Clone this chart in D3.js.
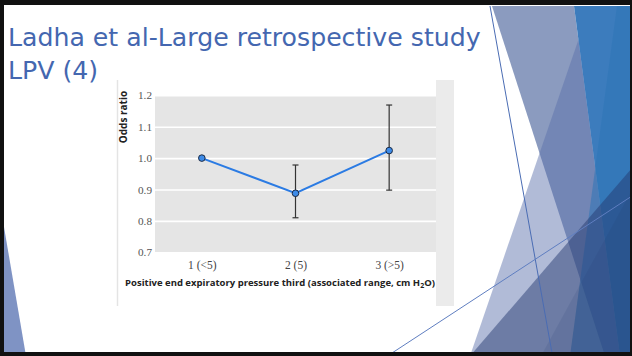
<!DOCTYPE html>
<html>
<head>
<meta charset="utf-8">
<script src="https://cdn.jsdelivr.net/npm/d3@7"></script>
<style>
  html, body { margin: 0; padding: 0; background: #fff; }
  svg { display: block; }
</style>
</head>
<body>
<svg id="slide" width="632" height="356"></svg>
<script>
// Odds ratio of mortality by PEEP third, with 95% confidence intervals
const categories = ["1 (<5)", "2 (5)", "3 (>5)"];
const oddsRatio  = [1.0, 0.888, 1.024];
const ciLower    = [null, 0.81, 0.898];
const ciUpper    = [null, 0.978, 1.169];
const yTicks     = [0.7, 0.8, 0.9, 1.0, 1.1, 1.2];

const titleLines = ["Ladha et al-Large retrospective study", "LPV (4)"];

const svg = d3.select("#slide");

// ---- slide theme decoration (translucent facets on the right) ----
const deco = svg.append("g");
const poly = (pts, fill, op) => deco.append("polygon")
  .attr("points", pts.map(p => p.join(",")).join(" "))
  .attr("fill", fill).attr("fill-opacity", op);

poly([[492,6],[574,6],[620,356],[605,356]], "#8b9bbf", 1);       // grey-blue facet
poly([[590,6],[632,6],[632,356],[470,356]], "#5a6fa9", 0.47);    // lavender facet
poly([[574,6],[632,6],[632,356],[620,356]], "#3c7cbd", 1);       // blue facet
poly([[617,6],[632,6],[632,356],[570,356]], "#2e75b6", 0.55);    // light blue facet
poly([[470,356],[632,168],[632,356]], "#24386f", 0.48);          // dark lower facet
poly([[541,356],[632,190],[632,356]], "#24386f", 0.12);          // navy corner facet
poly([[4,227],[26,356],[4,356]], "#7f93c4", 1);                  // small left facet

deco.append("line").attr("x1", 490).attr("y1", 6).attr("x2", 552).attr("y2", 353)
  .attr("stroke", "#4a6cb3").attr("stroke-width", 1);
deco.append("line").attr("x1", 392).attr("y1", 353).attr("x2", 632).attr("y2", 196)
  .attr("stroke", "#5f7ec0").attr("stroke-width", 1);

// ---- title ----
const title = svg.append("text")
  .attr("font-family", "'DejaVu Sans', sans-serif")
  .attr("font-size", 25.2)
  .attr("fill", "#4467b0");
titleLines.forEach((t, i) => {
  title.append("tspan").attr("x", 8).attr("y", 46 + i * 33).text(t);
});

// ---- chart figure panel ----
const panel = svg.append("g");
panel.append("rect").attr("x", 117).attr("y", 80).attr("width", 337).attr("height", 226).attr("fill", "#fff");
panel.append("line").attr("x1", 117.5).attr("x2", 117.5).attr("y1", 80).attr("y2", 306)
  .attr("stroke", "#e4e4e4").attr("stroke-width", 1.5);
panel.append("rect").attr("x", 436).attr("y", 80).attr("width", 18).attr("height", 226).attr("fill", "#ebebeb");

const plot = { left: 155, right: 436, top: 95.3, bottom: 252.3 };

const x = d3.scalePoint().domain(categories).range([plot.left, plot.right]).padding(0.5);
const y = d3.scaleLinear().domain([0.7, 1.2]).range([plot.bottom, plot.top]);

const g = svg.append("g");
g.append("rect").attr("x", plot.left).attr("y", plot.top)
  .attr("width", plot.right - plot.left).attr("height", plot.bottom - plot.top)
  .attr("fill", "#e5e5e5");

// horizontal gridlines + tick labels from the axis generator
const yAxis = d3.axisLeft(y).tickValues(yTicks).tickFormat(d3.format(".1f"))
  .tickSize(-(plot.right - plot.left)).tickPadding(3);
const ya = g.append("g").attr("transform", `translate(${plot.left},0)`).call(yAxis);
ya.select(".domain").remove();
ya.selectAll(".tick line").attr("stroke", "#ffffff").attr("stroke-width", 1.6);
ya.selectAll(".tick text").attr("font-family", "'Liberation Serif', serif")
  .attr("font-size", 11.2).attr("fill", "#555");

const xAxis = d3.axisBottom(x).tickSize(0).tickPadding(9);
const xa = g.append("g").attr("transform", `translate(0,${plot.bottom})`).call(xAxis);
xa.select(".domain").remove();
xa.selectAll(".tick text").attr("font-family", "'Liberation Serif', serif")
  .attr("font-size", 11.5).attr("fill", "#444");

// error bars
const ci = categories.map((c, i) => ({ c, lo: ciLower[i], hi: ciUpper[i] })).filter(d => d.lo != null);
const eb = g.append("g").attr("stroke", "#333").attr("stroke-width", 1.2).attr("fill", "none");
ci.forEach(d => {
  eb.append("line").attr("x1", x(d.c)).attr("x2", x(d.c)).attr("y1", y(d.lo)).attr("y2", y(d.hi));
  [d.lo, d.hi].forEach(v => eb.append("line")
    .attr("x1", x(d.c) - 3).attr("x2", x(d.c) + 3).attr("y1", y(v)).attr("y2", y(v)));
});

// line + markers
const pts = categories.map((c, i) => ({ c, v: oddsRatio[i] }));
g.append("path").datum(pts)
  .attr("d", d3.line().x(d => x(d.c)).y(d => y(d.v)))
  .attr("fill", "none").attr("stroke", "#2b7be3").attr("stroke-width", 2);
g.selectAll("circle.pt").data(pts).join("circle").attr("class", "pt")
  .attr("cx", d => x(d.c)).attr("cy", d => y(d.v)).attr("r", 3.3)
  .attr("fill", "#3d8be8").attr("stroke", "#1c2b45").attr("stroke-width", 1);

// axis titles
g.append("text").attr("transform", "translate(126.5,117) rotate(-90)")
  .attr("text-anchor", "middle")
  .attr("font-family", "'Open Sans', sans-serif").attr("font-weight", "bold")
  .attr("font-size", 10).attr("fill", "#222")
  .text("Odds ratio");

const xt = g.append("text").attr("x", 280).attr("y", 285.5).attr("text-anchor", "middle")
  .attr("font-family", "'Open Sans', sans-serif").attr("font-weight", "bold")
  .attr("font-size", 9.5).attr("fill", "#222");
xt.append("tspan").text("Positive end expiratory pressure third (associated range, cm H");
xt.append("tspan").attr("font-size", 7).attr("dy", 2).text("2");
xt.append("tspan").attr("dy", -2).text("O)");

// ---- slide frame ----
const frame = svg.append("g").attr("fill", "#111");
frame.append("rect").attr("x", 0).attr("y", 0).attr("width", 632).attr("height", 5);
frame.append("rect").attr("x", 0).attr("y", 0).attr("width", 4).attr("height", 356);
frame.append("rect").attr("x", 0).attr("y", 352).attr("width", 632).attr("height", 4);
frame.append("rect").attr("x", 630).attr("y", 0).attr("width", 2).attr("height", 356);
</script>
</body>
</html>
